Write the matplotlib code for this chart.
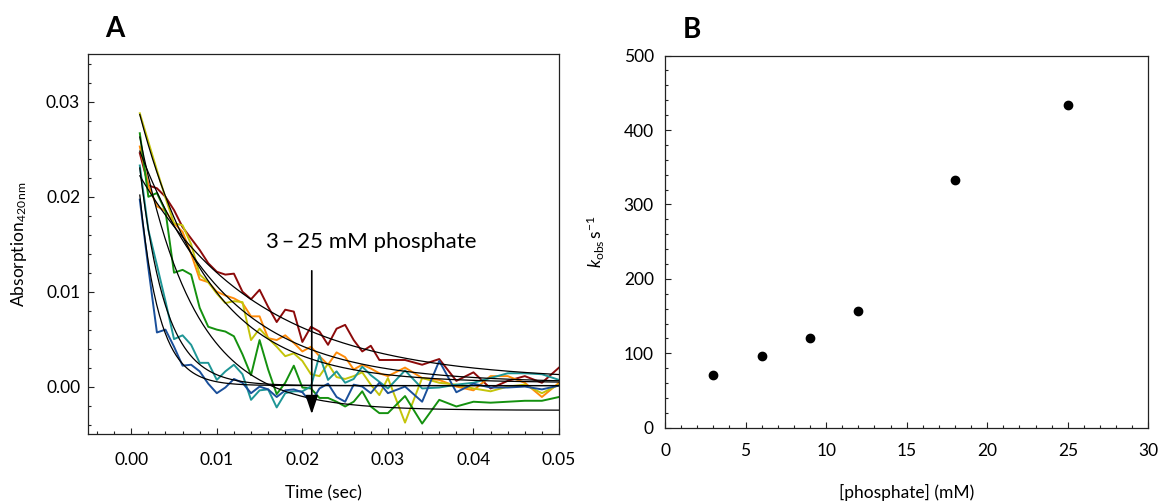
import numpy as np
import matplotlib
matplotlib.use("Agg")
import matplotlib.pyplot as plt
from matplotlib.ticker import MultipleLocator, FormatStrFormatter

plt.rcParams["font.family"] = ["Lato", "DejaVu Sans"]
plt.rcParams["mathtext.fontset"] = "custom"
plt.rcParams["mathtext.rm"] = "Lato"
plt.rcParams["mathtext.it"] = "Lato:italic"

# ---- panel A: absorbance traces (sec) ----
time_s = [0.001, 0.002, 0.003, 0.004, 0.005, 0.006, 0.007, 0.008, 0.009, 0.010,
          0.011, 0.012, 0.013, 0.014, 0.015, 0.016, 0.017, 0.018, 0.019, 0.020,
          0.021, 0.022, 0.023, 0.024, 0.025, 0.026, 0.027, 0.028, 0.029, 0.030,
          0.032, 0.034, 0.036, 0.038, 0.040, 0.042, 0.044, 0.046, 0.048, 0.050]

abs_3mM = [0.0246, 0.0212, 0.0209, 0.0200, 0.0186, 0.0168, 0.0156, 0.0144, 0.0130, 0.0121,
           0.0118, 0.0119, 0.0100, 0.0092, 0.0102, 0.0084, 0.0068, 0.0081, 0.0079, 0.0047,
           0.0063, 0.0058, 0.0044, 0.0061, 0.0065, 0.0049, 0.0037, 0.0043, 0.0028, 0.0028,
           0.0028, 0.0023, 0.0029, 0.0006, 0.0015, -0.0002, 0.0006, 0.0011, 0.0004, 0.0020]
abs_6mM = [0.0253, 0.0212, 0.0190, 0.0185, 0.0172, 0.0163, 0.0140, 0.0113, 0.0110, 0.0100,
           0.0096, 0.0093, 0.0088, 0.0074, 0.0074, 0.0051, 0.0049, 0.0054, 0.0046, 0.0037,
           0.0042, 0.0032, 0.0023, 0.0036, 0.0031, 0.0018, 0.0023, 0.0019, 0.0014, 0.0011,
           0.0020, 0.0009, 0.0007, 0.0000, -0.0004, 0.0011, 0.0011, 0.0004, -0.0011, 0.0004]
abs_9mM = [0.0288, 0.0258, 0.0228, 0.0199, 0.0172, 0.0170, 0.0150, 0.0118, 0.0110, 0.0098,
           0.0088, 0.0090, 0.0089, 0.0049, 0.0061, 0.0051, 0.0042, 0.0032, 0.0035, 0.0027,
           0.0013, 0.0011, 0.0024, 0.0010, 0.0008, 0.0011, 0.0015, 0.0002, -0.0009, 0.0009,
           -0.0038, 0.0009, 0.0004, 0.0002, -0.0002, -0.0005, 0.0000, 0.0002, -0.0007, 0.0002]
abs_12mM = [0.0267, 0.0200, 0.0204, 0.0185, 0.0120, 0.0123, 0.0118, 0.0083, 0.0063, 0.0060,
            0.0058, 0.0053, 0.0034, 0.0012, 0.0049, 0.0018, -0.0008, 0.0004, 0.0022, -0.0001,
            -0.0002, -0.0012, -0.0012, -0.0016, -0.0021, -0.0016, -0.0005, -0.0021, -0.0028, -0.0028,
            -0.0010, -0.0039, -0.0014, -0.0021, -0.0016, -0.0017, -0.0016, -0.0015, -0.0015, -0.0011]
abs_18mM = [0.0233, 0.0165, 0.0128, 0.0090, 0.0050, 0.0054, 0.0044, 0.0025, 0.0025, 0.0007,
            0.0016, 0.0023, 0.0013, -0.0014, -0.0004, -0.0003, -0.0022, -0.0007, -0.0005, -0.0005,
            0.0000, 0.0033, 0.0007, 0.0016, 0.0004, 0.0008, 0.0021, 0.0012, 0.0005, -0.0002,
            0.0017, -0.0002, -0.0001, 0.0002, 0.0004, 0.0009, 0.0014, 0.0014, 0.0013, 0.0007]
abs_25mM = [0.0197, 0.0125, 0.0057, 0.0060, 0.0042, 0.0022, 0.0023, 0.0016, 0.0003, -0.0007,
            -0.0001, 0.0008, 0.0004, -0.0007, 0.0000, -0.0003, -0.0011, -0.0004, -0.0003, -0.0006,
            -0.0017, -0.0002, 0.0003, -0.0011, -0.0016, 0.0002, 0.0000, -0.0007, 0.0004, -0.0007,
            0.0000, -0.0016, 0.0027, -0.0006, 0.0003, -0.0001, -0.0001, 0.0000, -0.0003, 0.0001]

trace_colors = ["#8c0a0a", "#ff8c0a", "#c4c40a", "#14910f", "#1e9696", "#1a4f9a"]

# single-exponential fits: A*exp(-kobs*t) + c
fit_amp = [0.0232, 0.0269, 0.0319, 0.0337, 0.0320, 0.0310]
fit_offset = [0.0006, 0.0004, 0.0004, -0.0025, 0.0001, 0.0001]

# ---- panel B: kobs vs phosphate ----
phosphate_mM = [3, 6, 9, 12, 18, 25]
kobs = [71, 97, 121, 157, 333, 434]


def style_axis(ax):
    for sp in ax.spines.values():
        sp.set_linewidth(0.9)
        sp.set_color("#222222")
    ax.tick_params(which="both", direction="in", top=False, right=False,
                   color="#222222", width=0.8)
    ax.tick_params(which="major", length=4)
    ax.tick_params(which="minor", length=2.5)


fig = plt.figure(figsize=(11.61, 5.04), dpi=100)

# panel A
axA = fig.add_axes([0.0762, 0.1389, 0.4053, 0.7530])
traces = [abs_3mM, abs_6mM, abs_9mM, abs_12mM, abs_18mM, abs_25mM]
for y, c in zip(traces, trace_colors):
    axA.plot(time_s, y, color=c, lw=1.4, zorder=2)

t_fit = np.linspace(time_s[0], time_s[-1], 300)
for a, k, c0 in zip(fit_amp, kobs, fit_offset):
    axA.plot(t_fit, a * np.exp(-k * t_fit) + c0, color="black", lw=0.9, zorder=3)

axA.set_xlim(-0.005, 0.05)
axA.set_ylim(-0.005, 0.035)
axA.xaxis.set_major_locator(MultipleLocator(0.01))
axA.xaxis.set_minor_locator(MultipleLocator(0.002))
axA.yaxis.set_major_locator(MultipleLocator(0.01))
axA.yaxis.set_minor_locator(MultipleLocator(0.002))
axA.xaxis.set_major_formatter(FormatStrFormatter("%.2f"))
axA.yaxis.set_major_formatter(FormatStrFormatter("%.2f"))
style_axis(axA)
axA.tick_params(axis="x", which="major", pad=13, labelsize=12.5)
axA.tick_params(axis="y", which="major", pad=6, labelsize=12.5)
axA.set_xlabel("Time (sec)", fontsize=12.5)
axA.xaxis.set_label_coords(0.5, -0.135)
axA.set_ylabel(r"Absorption$_{420\,\mathrm{nm}}$", fontsize=12.5)
axA.yaxis.set_label_coords(-0.127, 0.5)

axA.annotate("", xy=(0.0211, -0.0029), xytext=(0.0211, 0.0122),
             arrowprops=dict(arrowstyle="-|>,head_length=0.95,head_width=0.32",
                             color="black", lw=1.2, mutation_scale=12,
                             shrinkA=0, shrinkB=0), zorder=5)
axA.text(0.0281, 0.0152, "3\u2009\u2013\u200925 mM phosphate", fontsize=16,
         ha="center", va="center", zorder=5)

# panel B
axB = fig.add_axes([0.5728, 0.1514, 0.4163, 0.7383])
axB.plot(phosphate_mM, kobs, "o", color="black", markersize=6, zorder=3)
axB.set_xlim(0, 30)
axB.set_ylim(0, 500)
axB.xaxis.set_major_locator(MultipleLocator(5))
axB.xaxis.set_minor_locator(MultipleLocator(1))
axB.yaxis.set_major_locator(MultipleLocator(100))
axB.yaxis.set_minor_locator(MultipleLocator(20))
style_axis(axB)
axB.tick_params(axis="x", which="major", pad=11, labelsize=12.5)
axB.tick_params(axis="y", which="major", pad=8, labelsize=12.5)
axB.set_xlabel("[phosphate] (mM)", fontsize=12.5)
axB.xaxis.set_label_coords(0.5, -0.15)
axB.set_ylabel(r"$k_{\mathrm{obs}}\,\mathrm{s}^{\mathrm{-1}}$", fontsize=12.5)
axB.yaxis.set_label_coords(-0.12, 0.5)

fig.text(115 / 1161, 1 - 29 / 504, "A", fontsize=20, fontweight="bold",
         ha="center", va="center")
fig.text(692 / 1161, 1 - 30 / 504, "B", fontsize=20, fontweight="bold",
         ha="center", va="center")

fig.savefig("out.png", dpi=100)
